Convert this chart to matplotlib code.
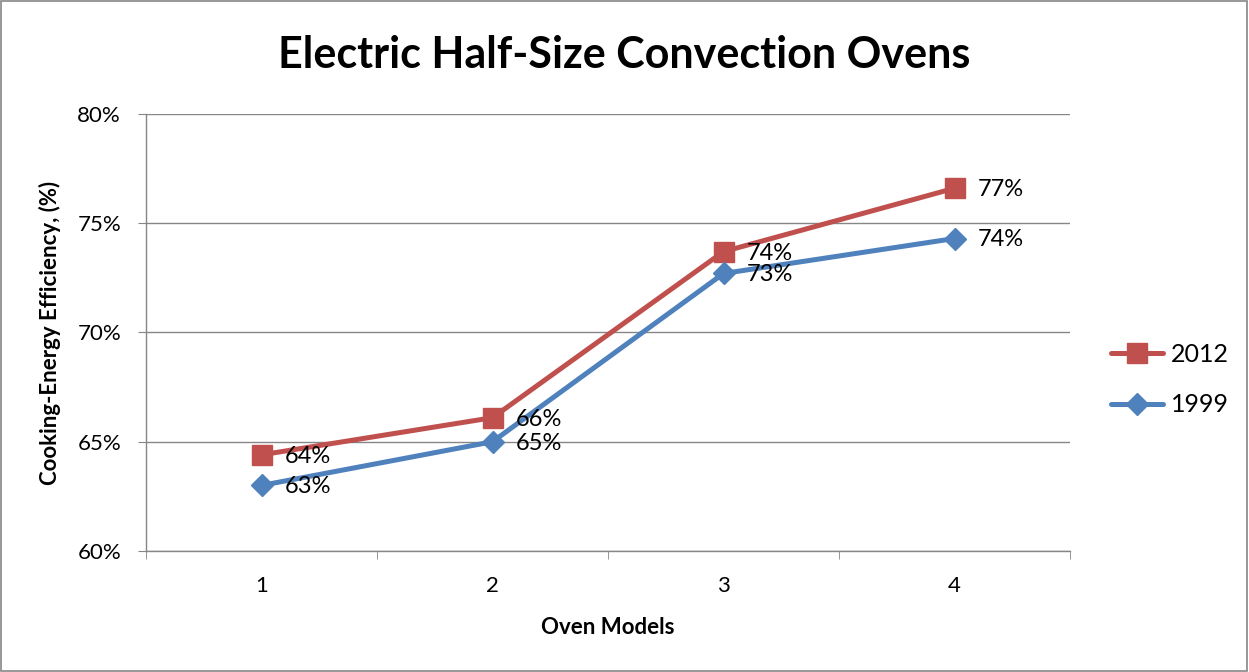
import matplotlib
matplotlib.use("Agg")
import matplotlib.pyplot as plt
from matplotlib.patches import Rectangle

# datos
modelos = [1, 2, 3, 4]
etiquetas = ["1", "2", "3", "4"]
serie_2012 = [64.4, 66.1, 73.7, 76.6]
serie_1999 = [63.0, 65.0, 72.7, 74.3]
yticks = [60, 65, 70, 75, 80]

rojo = "#C0504D"
azul = "#4F81BD"
gris = "#868686"

plt.rcParams["font.family"] = ["Lato", "DejaVu Sans"]

fig = plt.figure(figsize=(12.49, 6.72), dpi=100)
ax = fig.add_axes([0.1169, 0.1801, 0.7398, 0.6503])

# lineas
ax.plot(modelos, serie_2012, color=rojo, linewidth=3.6, marker="s", markersize=14,
        label="2012", solid_capstyle="round")
ax.plot(modelos, serie_1999, color=azul, linewidth=3.6, marker="D", markersize=11,
        label="1999", solid_capstyle="round")

# etiquetas de datos
for x, y in zip(modelos, serie_2012):
    ax.annotate("%d%%" % round(y), (x, y), xytext=(17, -1), textcoords="offset points",
                va="center", ha="left", fontsize=17)
for x, y in zip(modelos, serie_1999):
    ax.annotate("%d%%" % round(y), (x, y), xytext=(17, -1), textcoords="offset points",
                va="center", ha="left", fontsize=17)

ax.set_xlim(0.5, 4.5)
ax.set_ylim(60, 80)
ax.set_yticks(yticks)
ax.set_yticklabels(["%d%%" % v for v in yticks], fontsize=16)
ax.set_xticks(modelos)
ax.set_xticklabels(etiquetas, fontsize=16)
ax.set_xticks([0.5, 1.5, 2.5, 3.5, 4.5], minor=True)
ax.tick_params(axis="x", which="major", length=0, pad=18)
ax.tick_params(axis="x", which="minor", length=6, color=gris, direction="out")
ax.tick_params(axis="y", length=6, color=gris, direction="out", pad=12)

ax.grid(axis="y", color=gris, linewidth=1)
ax.set_axisbelow(True)
for s in ["top", "right"]:
    ax.spines[s].set_visible(False)
for s in ["left", "bottom"]:
    ax.spines[s].set_color(gris)
    ax.spines[s].set_linewidth(1)

ax.set_xlabel("Oven Models", fontsize=16, fontweight="bold", labelpad=15)
ax.set_ylabel("Cooking-Energy Efficiency, (%)", fontsize=16, fontweight="bold", labelpad=12)
fig.text(0.5, 0.918, "Electric Half-Size Convection Ovens", fontsize=31,
         fontweight="bold", ha="center", va="center")

ax.legend(loc="center left", bbox_to_anchor=(1.02, 0.392), frameon=False, fontsize=18,
          handlelength=2.1, labelspacing=1.1, handletextpad=0.3)

# borde exterior
fig.patches.append(Rectangle((0.001, 0.001), 0.997, 0.997, transform=fig.transFigure,
                             fill=False, edgecolor=gris, linewidth=1.2))

fig.savefig("out.png", dpi=100)
